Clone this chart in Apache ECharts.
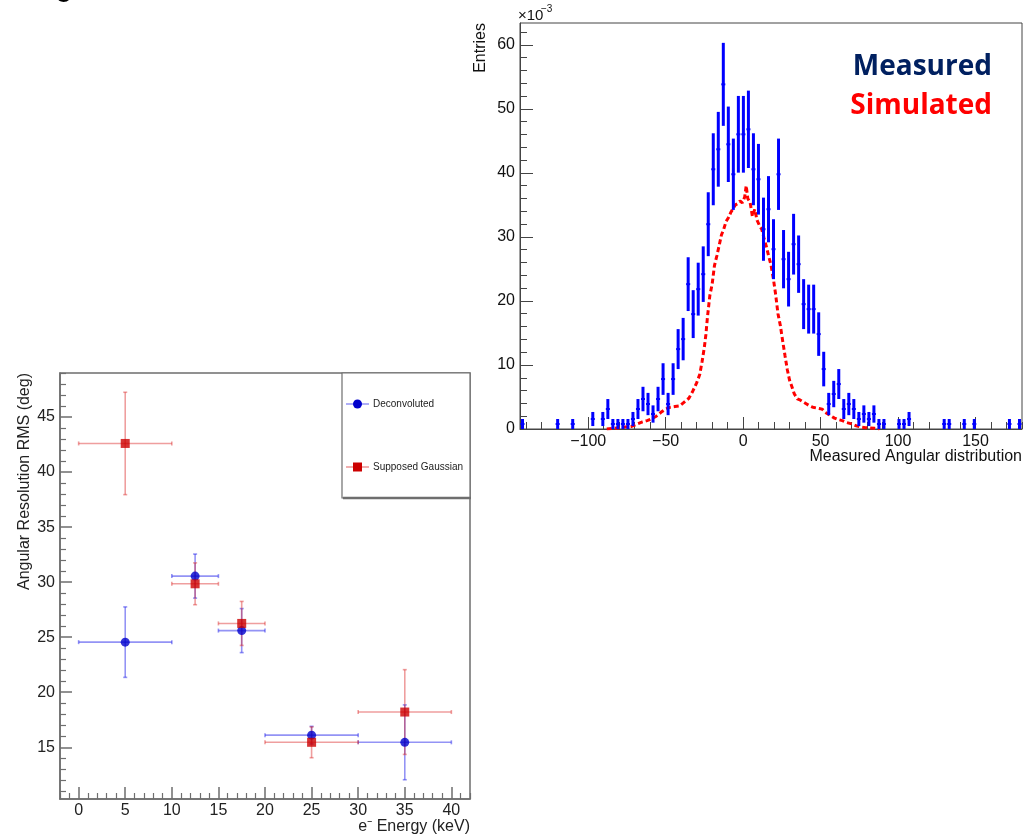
<!DOCTYPE html>
<html>
<head>
<meta charset="utf-8">
<script src="https://cdn.jsdelivr.net/npm/echarts@6/dist/echarts.min.js"></script>
<style>
html,body{margin:0;padding:0;background:#fff;}
#c{width:1034px;height:835px;}
</style>
</head>
<body>
<div id="c"></div>
<script>
// ===== Left plot: angular resolution vs energy =====
const energyCenter   = [5, 12.5, 17.5, 25, 35];
const energyHalfBin  = [5, 2.5, 2.5, 5, 5];
const deconvRMS      = [24.55, 30.55, 25.6, 16.1, 15.45];
const deconvErr      = [3.2, 2.0, 2.0, 0.8, 3.4];
const gaussRMS       = [42.6, 29.85, 26.25, 15.45, 18.2];
const gaussErr       = [4.65, 1.9, 2.0, 1.4, 3.85];
const leftXTicks     = [0, 5, 10, 15, 20, 25, 30, 35, 40];
const leftYTicks     = [15, 20, 25, 30, 35, 40, 45];

// ===== Right plot: measured angular distribution (x10^-3) =====
const histMin = -144, histMax = 180, histBins = 100;
const measuredBin = [0,7,10,14,16,17,18,19,20,21,22,23,24,25,26,27,28,29,30,31,32,33,34,35,36,37,38,39,40,41,42,43,44,45,46,47,48,49,50,51,52,53,54,55,56,57,58,59,60,61,62,63,64,65,66,67,68,69,70,71,72,75,76,77,84,85,88,90,97,99];
const measuredVal = [0.78,0.78,0.78,1.56,1.56,3.12,0.78,0.78,0.78,0.78,1.56,3.12,4.68,3.90,2.34,4.68,7.80,3.90,7.80,12.48,14.04,22.62,17.94,21.84,24.18,31.98,40.56,43.68,53.82,44.46,39.78,46.02,46.02,46.80,40.56,39.00,31.20,34.32,28.08,39.78,26.52,23.40,28.86,25.74,19.50,18.72,18.72,14.82,9.36,3.90,5.46,7.02,3.12,3.90,3.12,1.56,2.34,1.56,2.34,0.78,0.78,0.78,0.78,1.56,0.78,0.78,0.78,0.78,0.78,0.78];
const measuredErr = [0.78,0.78,0.78,1.10,1.10,1.56,0.78,0.78,0.78,0.78,1.10,1.56,1.91,1.74,1.35,1.91,2.47,1.74,2.47,3.12,3.31,4.20,3.74,4.13,4.34,4.99,5.62,5.84,6.48,5.89,5.57,5.99,5.99,6.04,5.62,5.52,4.93,5.17,4.68,5.57,4.55,4.27,4.74,4.48,3.90,3.82,3.82,3.40,2.70,1.74,2.06,2.34,1.56,1.74,1.56,1.10,1.35,1.10,1.35,0.78,0.78,0.78,0.78,1.10,0.78,0.78,0.78,0.78,0.78,0.78];
const simAngle = [-88,-84,-80,-76,-72,-68,-65,-62,-59,-56,-53,-50,-47,-44,-41,-38,-35,-32.5,-30,-28,-26.5,-25,-24,-23,-21.5,-20,-18.5,-17,-15.5,-14,-12.5,-11,-9.5,-8,-6.5,-5,-3.5,-2,-0.5,1,2,3,4.5,6,7.5,9,10.5,12,13.5,15,16.5,18,19.5,21,22.5,24,25.5,27,28.5,30,31.5,33,35,37,39,41,43,45,47,49,51,53,55,57,59,61,64,67,70,73,76,79,82,85,88];
const simValue = [0,0.1,0.2,0.3,0.4,0.8,1.1,1.3,1.6,2.0,2.6,3.1,3.4,3.5,3.6,4.2,4.8,5.9,7.2,8.5,10.5,12.8,14.8,17.5,20.8,22.6,25.5,27.0,28.6,30.3,31.2,32.4,33.0,33.8,34.4,35.0,35.2,35.6,35.3,36.2,38.0,36.0,35.4,33.2,34.3,32.6,31.8,31.2,29.8,28.5,27.0,25.6,23.5,21.0,18.0,16.2,13.8,11.5,9.3,7.6,6.6,5.5,4.7,4.5,4.2,3.9,3.6,3.4,3.3,3.2,3.1,2.6,2.3,2.0,1.7,1.5,1.3,1.0,0.8,0.5,0.3,0.2,0.15,0.1,0];
const rightXTicks = [-100, -50, 0, 50, 100, 150];
const rightYTicks = [0, 10, 20, 30, 40, 50, 60];

// ---------- helpers ----------
const FONT = 'Liberation Sans, Arial, sans-serif';
function range(a, b, s) { const r = []; for (let v = a; v <= b + 1e-9; v += s) r.push(+v.toFixed(6)); return r; }
function minusFmt(v) { return v < 0 ? '\u2212' + Math.abs(v) : String(v); }
const leftXMinor = range(-2, 42, 1).filter(v => leftXTicks.indexOf(v) < 0);
const leftYMinor = range(11, 49, 1).filter(v => leftYTicks.indexOf(v) < 0);
const rightXMinor = range(-140, 180, 10).filter(v => rightXTicks.indexOf(v) < 0);
const rightYMinor = range(0, 62, 2).filter(v => rightYTicks.indexOf(v) < 0);
const binW = (histMax - histMin) / histBins;

const leftLine = '#6e6e6e', rightLine = '#444';

function errBarSeries(name, ys, errs, color) {
  return {
    type: 'custom', name: name, xAxisIndex: 0, yAxisIndex: 0, z: 3,
    data: energyCenter.map((x, i) => [x, ys[i], energyHalfBin[i], errs[i]]),
    encode: { x: 0, y: 1 },
    renderItem: function (params, api) {
      const x = api.value(0), y = api.value(1), xe = api.value(2), ye = api.value(3);
      const l = api.coord([x - xe, y]), r = api.coord([x + xe, y]);
      const t = api.coord([x, y + ye]), b = api.coord([x, y - ye]);
      const st = { stroke: color, lineWidth: 1.6 };
      const c = 2;
      return { type: 'group', children: [
        { type: 'line', shape: { x1: l[0], y1: l[1], x2: r[0], y2: r[1] }, style: st },
        { type: 'line', shape: { x1: t[0], y1: t[1], x2: b[0], y2: b[1] }, style: st },
        { type: 'line', shape: { x1: l[0], y1: l[1] - c, x2: l[0], y2: l[1] + c }, style: st },
        { type: 'line', shape: { x1: r[0], y1: r[1] - c, x2: r[0], y2: r[1] + c }, style: st },
        { type: 'line', shape: { x1: t[0] - c, y1: t[1], x2: t[0] + c, y2: t[1] }, style: st },
        { type: 'line', shape: { x1: b[0] - c, y1: b[1], x2: b[0] + c, y2: b[1] }, style: st }
      ]};
    }
  };
}

const chart = echarts.init(document.getElementById('c'), null, { renderer: 'canvas' });

const option = {
  backgroundColor: '#ffffff',
  animation: false,
  grid: [
    { left: 60, top: 373, width: 410, height: 426, show: true, borderColor: leftLine, borderWidth: 1.5, backgroundColor: 'transparent' },
    { left: 520, top: 23, width: 502, height: 406, show: true, borderColor: rightLine, borderWidth: 1, backgroundColor: 'transparent' }
  ],
  xAxis: [
    { type: 'value', gridIndex: 0, min: -2, max: 42, position: 'bottom',
      axisLine: { show: true, onZero: false, lineStyle: { color: leftLine, width: 1.5 } },
      axisTick: { show: true, inside: true, length: 12, customValues: leftXTicks, lineStyle: { color: leftLine, width: 1.5 } },
      axisLabel: { show: true, customValues: leftXTicks, margin: 4, fontSize: 16, fontFamily: FONT, color: '#222' },
      splitLine: { show: false } },
    { type: 'value', gridIndex: 0, min: -2, max: 42, position: 'bottom',
      axisLine: { show: false, onZero: false },
      axisTick: { show: true, inside: true, length: 6, customValues: leftXMinor, lineStyle: { color: leftLine, width: 1.2 } },
      axisLabel: { show: false }, splitLine: { show: false } },
    { type: 'value', gridIndex: 1, min: histMin, max: histMax, position: 'bottom',
      axisLine: { show: true, onZero: false, lineStyle: { color: rightLine, width: 1 } },
      axisTick: { show: true, inside: true, length: 12, customValues: rightXTicks, lineStyle: { color: rightLine, width: 1 } },
      axisLabel: { show: true, customValues: rightXTicks, margin: 5, fontSize: 16, fontFamily: FONT, color: '#111', formatter: minusFmt },
      splitLine: { show: false } },
    { type: 'value', gridIndex: 1, min: histMin, max: histMax, position: 'bottom',
      axisLine: { show: false, onZero: false },
      axisTick: { show: true, inside: true, length: 7, customValues: rightXMinor, lineStyle: { color: rightLine, width: 1 } },
      axisLabel: { show: false }, splitLine: { show: false } }
  ],
  yAxis: [
    { type: 'value', gridIndex: 0, min: 10.3, max: 49, position: 'left',
      axisLine: { show: true, onZero: false, lineStyle: { color: leftLine, width: 1.5 } },
      axisTick: { show: true, inside: true, length: 12, customValues: leftYTicks, lineStyle: { color: leftLine, width: 1.5 } },
      axisLabel: { show: true, customValues: leftYTicks, margin: 5, fontSize: 16, fontFamily: FONT, color: '#222' },
      splitLine: { show: false } },
    { type: 'value', gridIndex: 0, min: 10.3, max: 49, position: 'left',
      axisLine: { show: false, onZero: false },
      axisTick: { show: true, inside: true, length: 6, customValues: leftYMinor, lineStyle: { color: leftLine, width: 1.2 } },
      axisLabel: { show: false }, splitLine: { show: false } },
    { type: 'value', gridIndex: 1, min: 0, max: 63.4, position: 'left',
      axisLine: { show: true, onZero: false, lineStyle: { color: rightLine, width: 1 } },
      axisTick: { show: true, inside: true, length: 13, customValues: rightYTicks, lineStyle: { color: rightLine, width: 1 } },
      axisLabel: { show: true, customValues: rightYTicks, margin: 5, fontSize: 16, fontFamily: FONT, color: '#111' },
      splitLine: { show: false } },
    { type: 'value', gridIndex: 1, min: 0, max: 63.4, position: 'left',
      axisLine: { show: false, onZero: false },
      axisTick: { show: true, inside: true, length: 7, customValues: rightYMinor, lineStyle: { color: rightLine, width: 1 } },
      axisLabel: { show: false }, splitLine: { show: false } }
  ],
  series: [
    errBarSeries('Deconvoluted errors', deconvRMS, deconvErr, 'rgba(40,40,235,0.5)'),
    { type: 'scatter', name: 'Deconvoluted', xAxisIndex: 0, yAxisIndex: 0, z: 4,
      symbol: 'circle', symbolSize: 9, itemStyle: { color: '#0000cc' },
      data: energyCenter.map((x, i) => [x, deconvRMS[i]]) },
    errBarSeries('Supposed Gaussian errors', gaussRMS, gaussErr, 'rgba(220,40,40,0.45)'),
    { type: 'scatter', name: 'Supposed Gaussian', xAxisIndex: 0, yAxisIndex: 0, z: 5,
      symbol: 'rect', symbolSize: 9, itemStyle: { color: '#cc0000' },
      data: energyCenter.map((x, i) => [x, gaussRMS[i]]) },

    { type: 'line', name: 'Simulated', xAxisIndex: 2, yAxisIndex: 2, z: 3,
      symbol: 'none', smooth: false,
      lineStyle: { color: '#ff0000', width: 3, type: [5, 3] },
      data: simAngle.map((x, i) => [x, simValue[i]]) },
    { type: 'custom', name: 'Measured', xAxisIndex: 2, yAxisIndex: 2, z: 4,
      data: measuredBin.map((b, i) => [histMin + (b + 0.5) * binW, measuredVal[i], measuredErr[i]]),
      encode: { x: 0, y: 1 },
      renderItem: function (params, api) {
        const x = api.value(0), y = api.value(1), e = api.value(2);
        const lo = api.coord([x, Math.max(0, y - e)]), hi = api.coord([x, y + e]);
        const l = api.coord([x - binW * 0.4, y]), r = api.coord([x + binW * 0.4, y]);
        return { type: 'group', children: [
          { type: 'line', shape: { x1: lo[0], y1: lo[1], x2: hi[0], y2: hi[1] }, style: { stroke: '#0000ff', lineWidth: 3 } },
          { type: 'line', shape: { x1: l[0], y1: l[1], x2: r[0], y2: r[1] }, style: { stroke: '#0000ff', lineWidth: 2 } }
        ]};
      } }
  ],
  graphic: [
    // cut-off slide text fragment at the top
    { type: 'text', x: 55, y: -14, style: { text: 'g', fontSize: 32, fontFamily: FONT, fill: '#000', align: 'left', verticalAlign: 'middle' } },
    // right plot texts
    { type: 'text', x: 481, y: 23, rotation: Math.PI / 2, style: { text: 'Entries', fontSize: 16, fontFamily: FONT, fill: '#111', align: 'right', verticalAlign: 'middle' } },
    { type: 'text', x: 518, y: 16, style: { text: '\u00d710', fontSize: 15, fontFamily: FONT, fill: '#111', align: 'left', verticalAlign: 'middle' } },
    { type: 'text', x: 541, y: 9, style: { text: '\u22123', fontSize: 10, fontFamily: FONT, fill: '#111', align: 'left', verticalAlign: 'middle' } },
    { type: 'text', x: 1022, y: 457, style: { text: 'Measured Angular distribution', fontSize: 16, fontFamily: FONT, fill: '#111', align: 'right', verticalAlign: 'middle' } },
    { type: 'text', x: 992, y: 67, style: { text: 'Measured', fontSize: 28, fontWeight: 'bold', fontFamily: 'Open Sans, sans-serif', fill: '#002060', align: 'right', verticalAlign: 'middle' } },
    { type: 'text', x: 992, y: 106, style: { text: 'Simulated', fontSize: 28, fontWeight: 'bold', fontFamily: 'Open Sans, sans-serif', fill: '#ff0000', align: 'right', verticalAlign: 'middle' } },
    // left plot texts
    { type: 'text', x: 25, y: 373, rotation: Math.PI / 2, style: { text: 'Angular Resolution RMS (deg)', fontSize: 16, fontFamily: FONT, fill: '#222', align: 'right', verticalAlign: 'middle' } },
    { type: 'text', x: 470, y: 827, style: { text: 'e\u207B Energy (keV)', fontSize: 16, fontFamily: FONT, fill: '#222', align: 'right', verticalAlign: 'middle' } },
    // legend box
    { type: 'rect', shape: { x: 342, y: 373, width: 128, height: 125 }, style: { fill: '#fff', stroke: leftLine, lineWidth: 1.2 }, z: 10 },
    { type: 'line', shape: { x1: 343, y1: 498, x2: 471, y2: 498 }, style: { stroke: leftLine, lineWidth: 2.5 }, z: 10 },
    { type: 'line', shape: { x1: 346, y1: 404, x2: 369, y2: 404 }, style: { stroke: 'rgba(40,40,235,0.5)', lineWidth: 1.5 }, z: 11 },
    { type: 'circle', shape: { cx: 357.5, cy: 404, r: 4.5 }, style: { fill: '#0000cc' }, z: 12 },
    { type: 'text', x: 373, y: 404, style: { text: 'Deconvoluted', fontSize: 10, fontFamily: FONT, fill: '#222', align: 'left', verticalAlign: 'middle' }, z: 12 },
    { type: 'line', shape: { x1: 346, y1: 467, x2: 369, y2: 467 }, style: { stroke: 'rgba(220,40,40,0.5)', lineWidth: 1.5 }, z: 11 },
    { type: 'rect', shape: { x: 353, y: 462.5, width: 9, height: 9 }, style: { fill: '#cc0000' }, z: 12 },
    { type: 'text', x: 373, y: 467, style: { text: 'Supposed Gaussian', fontSize: 10, fontFamily: FONT, fill: '#222', align: 'left', verticalAlign: 'middle' }, z: 12 }
  ]
};

chart.setOption(option);
</script>
</body>
</html>
